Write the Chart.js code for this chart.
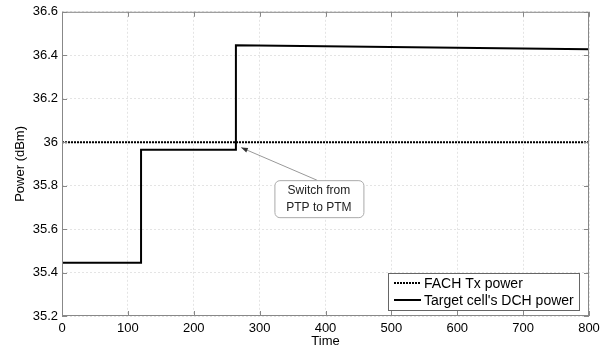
<!DOCTYPE html>
<html>
<head>
<meta charset="utf-8">
<script src="https://cdn.jsdelivr.net/npm/chart.js@4"></script>
<style>
  html, body { margin: 0; padding: 0; background: #fff; }
  #wrap { width: 616px; height: 352px; }
</style>
</head>
<body>
<div id="wrap"><canvas id="powerChart" width="616" height="352"></canvas></div>
<script>
// values
const fachTime = [0, 800];
const fachPower = [36, 36];
const dchTime = [0, 120, 120, 264, 264, 800];
const dchPower = [35.445, 35.445, 35.965, 35.965, 36.446, 36.428];
const xTicks = [0, 100, 200, 300, 400, 500, 600, 700, 800];
const yTicks = [35.2, 35.4, 35.6, 35.8, 36, 36.2, 36.4, 36.6];
const noteLines = ['Switch from', 'PTP to PTM'];

const FONT = 'Liberation Sans, Arial, sans-serif';

function pts(xs, ys) {
    return xs.map((x, i) => ({ x: x, y: ys[i] }));
}

// frame, inward ticks, legend and the annotation
const decor = {
    id: 'decor',
    afterDatasetsDraw(chart) {
        const ctx = chart.ctx;
        const a = chart.chartArea;
        const xs = chart.scales.x, ys = chart.scales.y;
        ctx.save();
        ctx.strokeStyle = '#888';
        ctx.lineWidth = 1;
        ctx.strokeRect(a.left + 0.5, a.top + 0.5, a.right - a.left - 1, a.bottom - a.top - 1);
        ctx.beginPath();
        xTicks.forEach(v => {
            const p = Math.round(xs.getPixelForValue(v)) + 0.5;
            ctx.moveTo(p, a.bottom); ctx.lineTo(p, a.bottom - 5);
            ctx.moveTo(p, a.top); ctx.lineTo(p, a.top + 5);
        });
        yTicks.forEach(v => {
            const p = Math.round(ys.getPixelForValue(v)) + 0.5;
            ctx.moveTo(a.left, p); ctx.lineTo(a.left + 5, p);
            ctx.moveTo(a.right, p); ctx.lineTo(a.right - 5, p);
        });
        ctx.stroke();

        // annotation arrow + box
        const tipX = xs.getPixelForValue(272), tipY = ys.getPixelForValue(35.975);
        const bx = xs.getPixelForValue(390), by = ys.getPixelForValue(35.74);
        const bw = 89, bh = 37;
        ctx.strokeStyle = '#999';
        ctx.beginPath();
        ctx.moveTo(bx - 2, by - bh / 2);
        ctx.lineTo(tipX, tipY);
        ctx.stroke();
        const ang = Math.atan2(by - bh / 2 - tipY, bx - 2 - tipX);
        ctx.fillStyle = '#333';
        ctx.beginPath();
        ctx.moveTo(tipX, tipY);
        ctx.lineTo(tipX + 7 * Math.cos(ang - 0.35), tipY + 7 * Math.sin(ang - 0.35));
        ctx.lineTo(tipX + 7 * Math.cos(ang + 0.35), tipY + 7 * Math.sin(ang + 0.35));
        ctx.closePath();
        ctx.fill();
        ctx.fillStyle = '#fff';
        ctx.strokeStyle = '#aaa';
        ctx.beginPath();
        ctx.roundRect(bx - bw / 2 + 0.5, by - bh / 2 + 0.5, bw, bh, 5);
        ctx.fill();
        ctx.stroke();
        ctx.fillStyle = '#222';
        ctx.font = '12px ' + FONT;
        ctx.textAlign = 'center';
        ctx.textBaseline = 'middle';
        ctx.fillText(noteLines[0], bx, by - 8);
        ctx.fillText(noteLines[1], bx, by + 9);

        // legend inside the plot, bottom right
        const lw = 191, lh = 37;
        const lx = a.right - 10 - lw, ly = a.bottom - 6 - lh;
        ctx.fillStyle = '#fff';
        ctx.fillRect(lx, ly, lw, lh);
        ctx.strokeStyle = '#666';
        ctx.strokeRect(lx + 0.5, ly + 0.5, lw, lh);
        ctx.font = '14px ' + FONT;
        ctx.textAlign = 'left';
        chart.data.datasets.forEach((ds, i) => {
            const yy = ly + 10 + i * 17;
            ctx.strokeStyle = '#000';
            ctx.lineWidth = 2;
            ctx.setLineDash(ds.borderDash || []);
            ctx.beginPath();
            ctx.moveTo(lx + 6, yy); ctx.lineTo(lx + 33, yy);
            ctx.stroke();
            ctx.setLineDash([]);
            ctx.fillStyle = '#000';
            ctx.fillText(ds.label, lx + 36, yy + 1);
        });
        ctx.restore();
    }
};

new Chart(document.getElementById('powerChart'), {
    type: 'line',
    data: {
        datasets: [
            { label: 'FACH Tx power', data: pts(fachTime, fachPower), borderColor: '#000', borderWidth: 2, borderDash: [2, 1], pointRadius: 0, fill: false },
            { label: "Target cell's DCH power", data: pts(dchTime, dchPower), borderColor: '#000', borderWidth: 2, pointRadius: 0, fill: false, tension: 0 }
        ]
    },
    options: {
        responsive: false,
        animation: false,
        layout: { padding: { top: 9, right: 27, left: 0, bottom: 0 } },
        plugins: { legend: { display: false }, tooltip: { enabled: false } },
        scales: {
            x: {
                type: 'linear', min: 0, max: 800,
                afterBuildTicks(s) { s.ticks = xTicks.map(v => ({ value: v })); },
                afterFit(s) { s.height = 36; },
                grid: { color: '#e4e4e4', drawTicks: false },
                border: { display: false, dash: [2, 2] },
                ticks: { color: '#000', font: { family: FONT, size: 13 }, padding: 5, maxRotation: 0 },
                title: { display: true, text: 'Time', color: '#000', font: { family: FONT, size: 13 }, padding: { top: 0, bottom: 3 } }
            },
            y: {
                type: 'linear', min: 35.2, max: 36.6,
                afterBuildTicks(s) { s.ticks = yTicks.map(v => ({ value: v })); },
                afterFit(s) { s.width = 62; },
                grid: { color: '#e4e4e4', drawTicks: false },
                border: { display: false, dash: [2, 2] },
                ticks: { color: '#000', font: { family: FONT, size: 13 }, padding: 4,
                         callback: v => String(Math.round(v * 10) / 10) },
                title: { display: true, text: 'Power (dBm)', color: '#000', font: { family: FONT, size: 13 }, padding: { top: 13, bottom: 0 } }
            }
        }
    },
    plugins: [decor]
});
</script>
</body>
</html>
